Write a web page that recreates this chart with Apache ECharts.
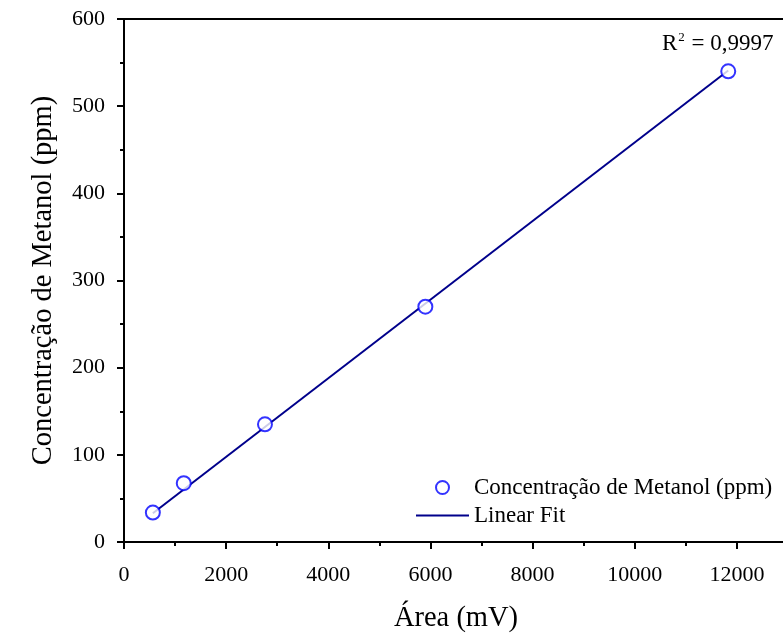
<!DOCTYPE html>
<html>
<head>
<meta charset="utf-8">
<script src="https://cdn.jsdelivr.net/npm/echarts@6/dist/echarts.min.js"></script>
<style>
html,body{margin:0;padding:0;background:#fff;}
#chart{width:783px;height:635px;}
</style>
</head>
<body>
<div id="chart"></div>
<script>
// pontos medidos (área x concentração)
var areaMv = [565, 1170, 2760, 5900, 11830];
var concPpm = [33.75, 67.5, 135, 270, 540];
// extremos da reta de ajuste
var fitX = [565, 11830];
var fitY = [33, 541];
var r2Text = '0,9997';

var font = 'Liberation Serif';
var chart = echarts.init(document.getElementById('chart'));

chart.setOption({
    animation: false,
    backgroundColor: '#fff',
    grid: {
        left: 124,
        right: -5,
        top: 19,
        bottom: 93,
        outerBoundsMode: 'none',
        containLabel: false,
        show: true,
        borderColor: '#000',
        borderWidth: 2
    },
    legend: {
        orient: 'vertical',
        left: 411,
        top: 471,
        itemWidth: 53,
        itemHeight: 13,
        itemGap: 5,
        textStyle: {fontFamily: font, fontSize: 23, color: '#000'},
        data: [
            {name: 'Concentração de Metanol (ppm)', icon: 'emptyCircle'},
            {name: 'Linear Fit', icon: 'path://M0,0L53,0L53,2L0,2Z'}
        ]
    },
    graphic: [{
        type: 'text',
        left: 662,
        top: 31,
        style: {
            text: 'R{s|2} = ' + r2Text,
            font: '23px "Liberation Serif"',
            fill: '#000',
            rich: {s: {fontSize: 13, verticalAlign: 'top', padding: [0, 1, 13, 1], fontFamily: font}}
        }
    }],
    xAxis: {
        type: 'value',
        min: 0,
        max: 13000,
        interval: 2000,
        name: 'Área (mV)',
        nameLocation: 'middle',
        nameGap: 62,
        nameTextStyle: {fontFamily: font, fontSize: 28.5, color: '#000'},
        axisLine: {onZero: false, lineStyle: {color: '#000', width: 2}},
        axisTick: {inside: false, length: 7, lineStyle: {color: '#000', width: 2}},
        minorTick: {show: true, splitNumber: 2, length: 4, lineStyle: {color: '#000', width: 2}},
        splitLine: {show: false},
        axisLabel: {
            fontFamily: font, fontSize: 22, color: '#000', margin: 22, showMaxLabel: false,
            formatter: function (v) { return String(v); }
        }
    },
    yAxis: {
        type: 'value',
        min: 0,
        max: 600,
        interval: 100,
        name: 'Concentração de Metanol (ppm)',
        nameLocation: 'middle',
        nameGap: 66,
        nameTextStyle: {fontFamily: font, fontSize: 28.5, color: '#000'},
        axisLine: {onZero: false, lineStyle: {color: '#000', width: 2}},
        axisTick: {inside: false, length: 7, lineStyle: {color: '#000', width: 2}},
        minorTick: {show: true, splitNumber: 2, length: 4, lineStyle: {color: '#000', width: 2}},
        splitLine: {show: false},
        axisLabel: {
            fontFamily: font, fontSize: 22, color: '#000', margin: 19,
            formatter: function (v) { return String(v); }
        }
    },
    series: [
        {
            name: 'Linear Fit',
            type: 'line',
            data: fitX.map(function (x, i) { return [x, fitY[i]]; }),
            showSymbol: false,
            symbol: 'none',
            lineStyle: {color: '#00008b', width: 2},
            itemStyle: {color: '#00008b'},
            z: 2
        },
        {
            name: 'Concentração de Metanol (ppm)',
            type: 'scatter',
            data: areaMv.map(function (x, i) { return [x, concPpm[i]]; }),
            symbol: 'emptyCircle',
            symbolSize: 14,
            itemStyle: {color: '#0000ff', borderColor: '#0000ff', borderWidth: 2.6},
            z: 3
        }
    ]
});
</script>
</body>
</html>
